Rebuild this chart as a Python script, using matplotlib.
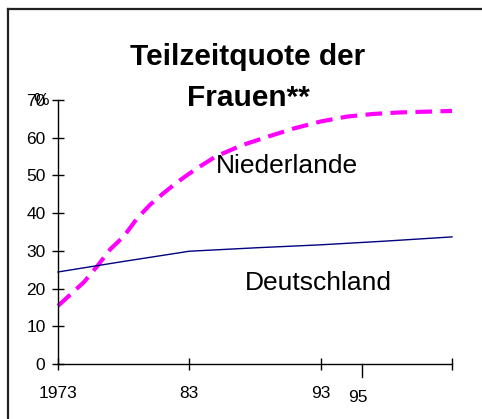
import matplotlib
matplotlib.use("Agg")
import matplotlib.pyplot as plt
from matplotlib.lines import Line2D

plt.rcParams['font.family'] = ['Liberation Sans', 'DejaVu Sans']

# Teilzeitquote der Frauen in %
nl_years = [1973, 1974, 1975, 1976, 1977, 1978, 1979, 1980, 1981, 1982, 1983,
            1984, 1985, 1987, 1989, 1991, 1993, 1995, 1997, 1999, 2001, 2003]
nl_values = [15.4, 18.6, 21.8, 26.0, 30.5, 33.8, 38.5, 42.2, 45.2, 48.0, 50.5,
             52.8, 55.0, 58.0, 60.3, 62.5, 64.3, 65.6, 66.3, 66.7, 66.9, 67.1]
de_years = [1973, 1978, 1983, 1988, 1993, 1998, 2003]
de_values = [24.4, 27.2, 29.9, 30.8, 31.6, 32.6, 33.7]

x_ticks = [1973, 1983, 1993, 2003]
x_labels = ['1973', '83', '93', '']
y_ticks = [0, 10, 20, 30, 40, 50, 60, 70]
extra_year = 1996.15
extra_label = '95'

W, H = 482, 419
fig = plt.figure(figsize=(W / 100, H / 100), dpi=100)
ax = fig.add_axes([58 / W, 55 / H, 394 / W, 264 / H])

ax.plot(nl_years, nl_values, color='#FF00FF', lw=3, ls=(0, (4, 2)),
        clip_on=False, dash_capstyle='butt')
ax.plot(de_years, de_values, color='#000080', lw=1, clip_on=False)

ax.set_xlim(1973, 2003)
ax.set_ylim(0, 70)
for s in ['top', 'right']:
    ax.spines[s].set_visible(False)
for s in ['left', 'bottom']:
    ax.spines[s].set_linewidth(1)
    ax.spines[s].set_color('black')

ax.set_yticks(y_ticks)
ax.set_yticklabels([str(v) for v in y_ticks])
ax.set_xticks(x_ticks)
ax.set_xticklabels(x_labels)
ax.tick_params(axis='y', direction='inout', length=8, width=1, labelsize=12.5, pad=5)
ax.tick_params(axis='x', direction='inout', length=9, width=1, labelsize=12.5, pad=11)

# downward tick for 95
ax.plot([extra_year, extra_year], [0, -3.5], color='black', lw=1, clip_on=False)
ax.text(extra_year - 0.3, -6.8, extra_label, ha='center', va='top', fontsize=12.5)

ax.text(1971.7, 70, '%', ha='center', va='center', fontsize=12.5)

ax.text(1990.4, 52.5, 'Niederlande', ha='center', va='center', fontsize=19)
ax.text(1992.8, 21.5, 'Deutschland', ha='center', va='center', fontsize=19)

fig.text(248 / W, 1 - 57 / H, 'Teilzeitquote der', ha='center', va='center',
         fontsize=21.5, fontweight='bold')
fig.text(248 / W, 1 - 98 / H, 'Frauen**', ha='center', va='center',
         fontsize=21.5, fontweight='bold')

# outer frame (left and top edges)
fig.add_artist(Line2D([7.5 / W, 7.5 / W], [0, 1 - 9.5 / H], transform=fig.transFigure,
                      color='#222222', lw=1.6))
fig.add_artist(Line2D([7.5 / W, 1], [1 - 9.5 / H, 1 - 9.5 / H], transform=fig.transFigure,
                      color='#222222', lw=1.6))

fig.savefig('out.png', dpi=100)
